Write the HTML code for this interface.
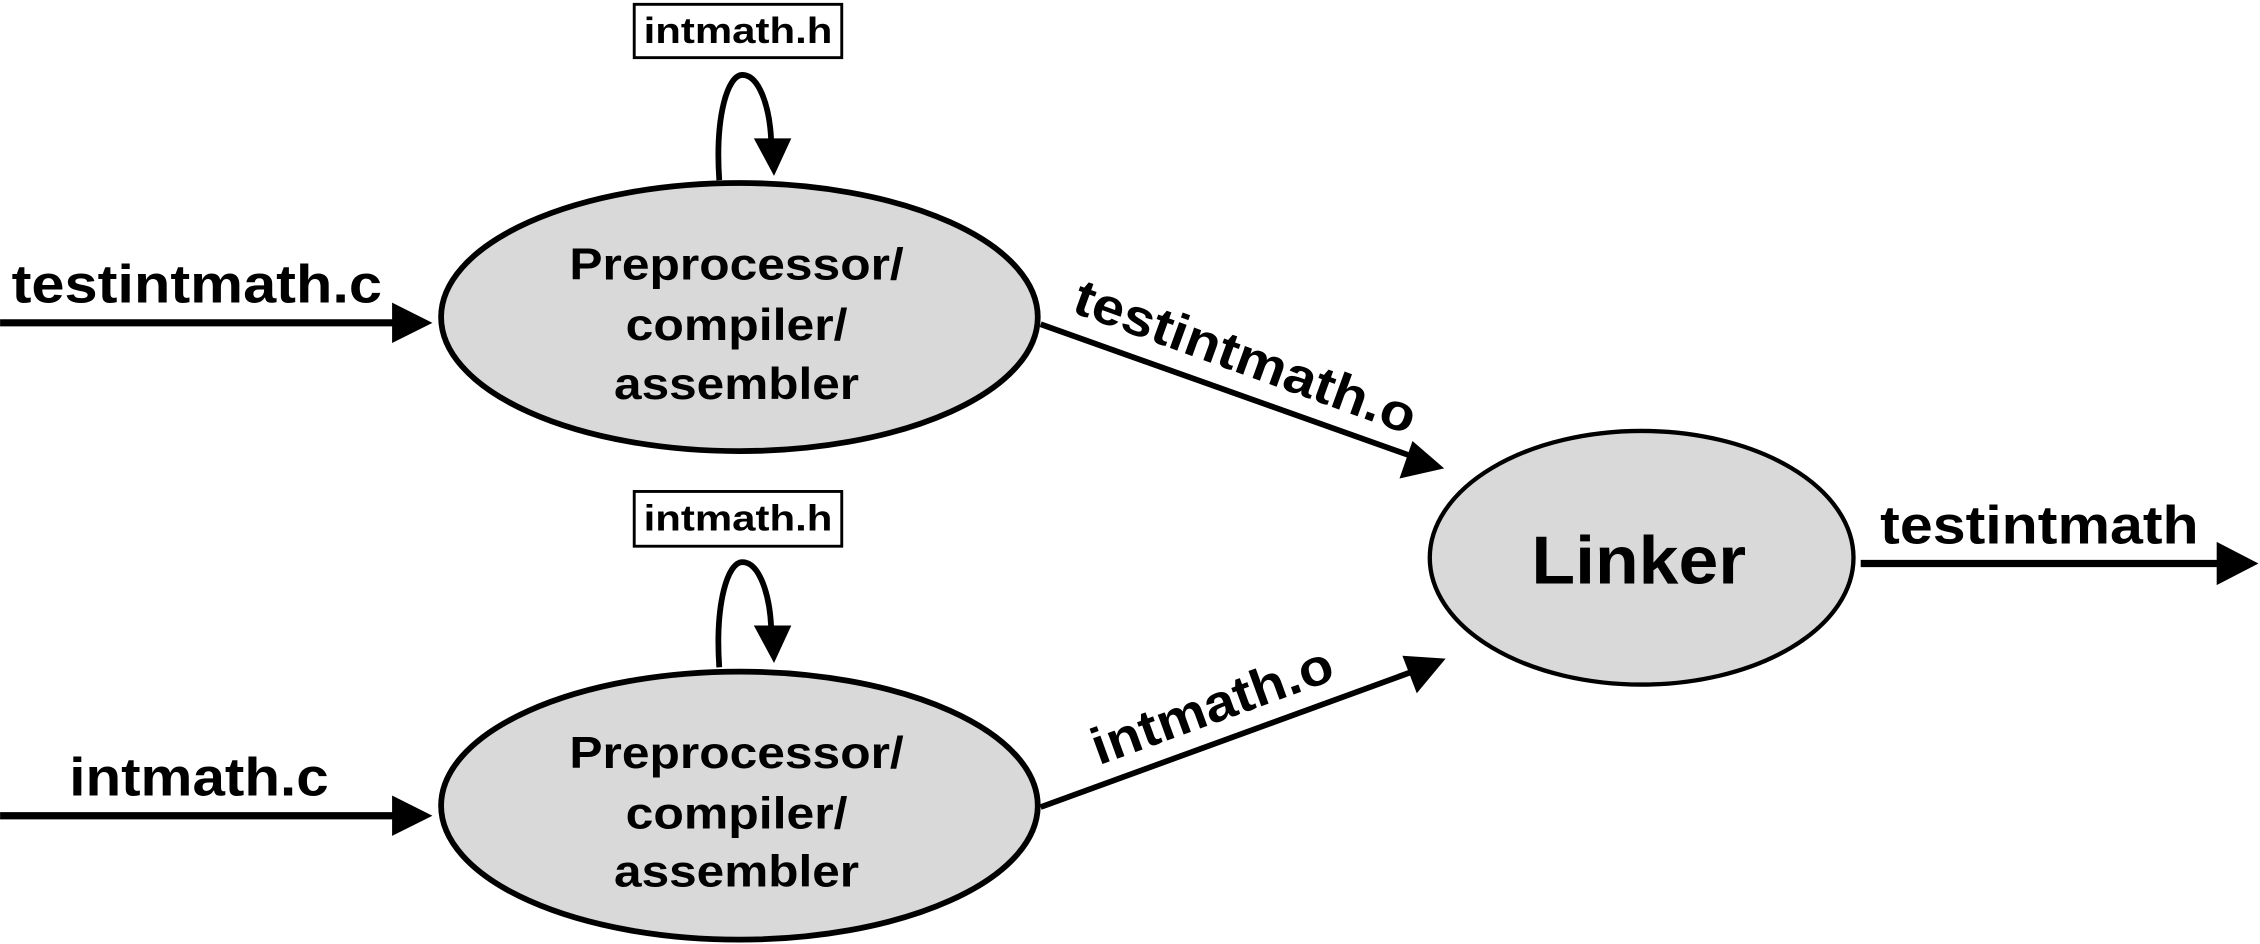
<!DOCTYPE html>
<html><head><meta charset="utf-8"><style>
html,body{margin:0;padding:0;background:#fff;}
svg{display:block;}
text{font-family:"Liberation Sans",Arial,sans-serif;font-weight:bold;fill:#000;}
</style></head><body>
<svg width="2260" height="944" viewBox="0 0 1568 655" xmlns="http://www.w3.org/2000/svg">
<!-- ellipses -->
<ellipse cx="513" cy="220" rx="207" ry="93" fill="#d9d9d9" stroke="#000" stroke-width="4"/>
<ellipse cx="513" cy="559" rx="207" ry="93" fill="#d9d9d9" stroke="#000" stroke-width="4"/>
<ellipse cx="1139" cy="387" rx="147" ry="88" fill="#d9d9d9" stroke="#000" stroke-width="3"/>
<!-- ellipse texts -->
<g font-size="31" text-anchor="middle" lengthAdjust="spacingAndGlyphs">
<text x="511" y="194" textLength="232" lengthAdjust="spacingAndGlyphs">Preprocessor/</text>
<text x="511" y="236" textLength="154" lengthAdjust="spacingAndGlyphs">compiler/</text>
<text x="511" y="277" textLength="170" lengthAdjust="spacingAndGlyphs">assembler</text>
<text x="511" y="533" textLength="232" lengthAdjust="spacingAndGlyphs">Preprocessor/</text>
<text x="511" y="575" textLength="154" lengthAdjust="spacingAndGlyphs">compiler/</text>
<text x="511" y="615" textLength="170" lengthAdjust="spacingAndGlyphs">assembler</text>
</g>
<text x="1137" y="405" font-size="47" text-anchor="middle" textLength="149" lengthAdjust="spacingAndGlyphs">Linker</text>
<!-- input arrows -->
<line x1="0" y1="224" x2="274" y2="224" stroke="#000" stroke-width="5"/>
<polygon points="272,210 300,224 272,238" fill="#000"/>
<text x="8" y="210" font-size="37" textLength="257" lengthAdjust="spacingAndGlyphs">testintmath.c</text>
<line x1="0" y1="566" x2="274" y2="566" stroke="#000" stroke-width="5"/>
<polygon points="272,552 300,566 272,580" fill="#000"/>
<text x="138" y="552" font-size="37" text-anchor="middle" textLength="180" lengthAdjust="spacingAndGlyphs">intmath.c</text>
<!-- header boxes -->
<rect x="440" y="3" width="144" height="37" fill="#fff" stroke="#000" stroke-width="2"/>
<text x="512" y="30" font-size="25" text-anchor="middle" textLength="131" lengthAdjust="spacingAndGlyphs">intmath.h</text>
<rect x="440" y="341" width="144" height="38" fill="#fff" stroke="#000" stroke-width="2"/>
<text x="512" y="368" font-size="25" text-anchor="middle" textLength="131" lengthAdjust="spacingAndGlyphs">intmath.h</text>
<!-- loops -->
<path d="M499,125 C496,80 505,52 515,52 C527,52 534,75 535,97" fill="none" stroke="#000" stroke-width="4"/>
<polygon points="523,96 549,96 537,122" fill="#000"/>
<path d="M499,463 C496,418 505,390 515,390 C527,390 534,413 535,435" fill="none" stroke="#000" stroke-width="4"/>
<polygon points="523,434 549,434 537,460" fill="#000"/>
<!-- to linker -->
<line x1="722" y1="225" x2="978" y2="316" stroke="#000" stroke-width="4"/>
<polygon points="1002,325 971,332 980,306" fill="#000"/>
<text x="860" y="259" font-size="36" text-anchor="middle" textLength="250" lengthAdjust="spacingAndGlyphs" transform="rotate(20 860 259)">testintmath.o</text>
<line x1="722" y1="560" x2="980" y2="466" stroke="#000" stroke-width="4"/>
<polygon points="1003,457 983,481 973,455" fill="#000"/>
<text x="845" y="501" font-size="36" text-anchor="middle" textLength="176" lengthAdjust="spacingAndGlyphs" transform="rotate(-20 845 501)">intmath.o</text>
<!-- output -->
<line x1="1291" y1="391" x2="1542" y2="391" stroke="#000" stroke-width="5"/>
<polygon points="1538,376 1567,391 1538,406" fill="#000"/>
<text x="1415" y="377" font-size="37" text-anchor="middle" textLength="221" lengthAdjust="spacingAndGlyphs">testintmath</text>
</svg>
</body></html>
